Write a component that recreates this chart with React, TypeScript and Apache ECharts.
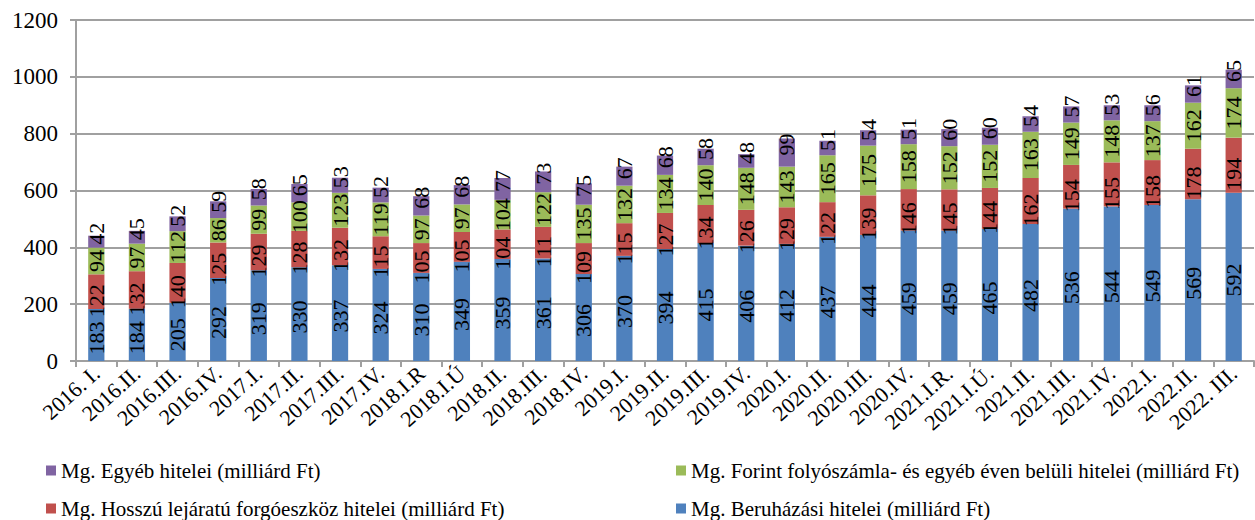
import React, { useEffect, useRef } from "react";
import * as echarts from "echarts";

const categories = [
  "2016. I.", "2016.II.", "2016.III.", "2016.IV.", "2017.I.", "2017.II.", "2017.III.", "2017.IV.",
  "2018.I.R", "2018.I.Ú", "2018.II.", "2018.III.", "2018.IV.", "2019.I.", "2019.II.", "2019.III.",
  "2019.IV.", "2020.I.", "2020.II.", "2020.III.", "2020.IV.", "2021.I.R.", "2021.I.Ú.", "2021.II.",
  "2021.III.", "2021.IV.", "2022.I.", "2022.II.", "2022. III.",
];

const beruhazasi = [183, 184, 205, 292, 319, 330, 337, 324, 310, 349, 359, 361, 306, 370, 394, 415, 406, 412, 437, 444, 459, 459, 465, 482, 536, 544, 549, 569, 592];
const hosszu = [122, 132, 140, 125, 129, 128, 132, 115, 105, 105, 104, 111, 109, 115, 127, 134, 126, 129, 122, 139, 146, 145, 144, 162, 154, 155, 158, 178, 194];
const forint = [94, 97, 112, 86, 99, 100, 123, 119, 97, 97, 104, 122, 135, 132, 134, 140, 148, 143, 165, 175, 158, 152, 152, 163, 149, 148, 137, 162, 174];
const egyeb = [42, 45, 52, 59, 58, 65, 53, 52, 68, 68, 77, 73, 75, 67, 68, 58, 48, 99, 51, 54, 51, 60, 60, 54, 57, 53, 56, 61, 65];

const yTicks = [0, 200, 400, 600, 800, 1000, 1200];

const names = {
  beru: "Mg. Beruházási hitelei (milliárd Ft)",
  hossz: "Mg. Hosszú lejáratú forgóeszköz hitelei (milliárd Ft)",
  forint: "Mg. Forint folyószámla- és egyéb éven belüli hitelei (milliárd Ft)",
  egyeb: "Mg. Egyéb hitelei (milliárd Ft)",
};

const FONT = "'Liberation Serif', 'Times New Roman', serif";

export default function App() {
  const ref = useRef<HTMLDivElement>(null);
  useEffect(() => {
    if (!ref.current) return;
    const chart = echarts.init(ref.current, null, { renderer: "svg" });
    // label text is rotated 90deg, so offset[0] moves it along the bar (positive = up)
    const label = (shiftUp: number) => ({
      show: true,
      position: "inside" as const,
      rotate: 90,
      color: "#000",
      fontFamily: FONT,
      fontSize: 22,
      offset: [shiftUp, 0],
    });
    const mk = (name: string, data: number[], color: string, shiftUp: number) => ({
      name,
      type: "bar" as const,
      stack: "total",
      data,
      barWidth: "40%",
      itemStyle: { color },
      label: label(shiftUp),
    });
    const legendBase = {
      orient: "horizontal" as const,
      padding: 0,
      itemWidth: 10,
      itemHeight: 10,
      icon: "rect",
      textStyle: { fontFamily: FONT, fontSize: 21, color: "#000", lineHeight: 21 },
    };
    chart.setOption({
      animation: false,
      textStyle: { fontFamily: FONT },
      grid: { left: 76, right: 1, top: 20, bottom: 159, containLabel: false },
      legend: [
        { ...legendBase, left: 46, top: 460, data: [names.egyeb] },
        { ...legendBase, left: 676, top: 460, data: [names.forint] },
        { ...legendBase, left: 46, top: 498, data: [names.hossz] },
        { ...legendBase, left: 676, top: 498, data: [names.beru] },
      ],
      xAxis: {
        type: "category",
        data: categories,
        axisLine: { lineStyle: { color: "#a0a0a0", width: 2 } },
        axisTick: { show: true, length: 6, lineStyle: { color: "#a0a0a0", width: 2 } },
        axisLabel: { rotate: 42, fontFamily: FONT, fontSize: 22, color: "#000", margin: 9, interval: 0 },
      },
      yAxis: {
        type: "value",
        min: yTicks[0],
        max: yTicks[yTicks.length - 1],
        interval: 200,
        axisLine: { show: true, lineStyle: { color: "#a0a0a0", width: 2 } },
        axisTick: { show: true, length: 6, lineStyle: { color: "#a0a0a0", width: 2 } },
        axisLabel: {
          fontFamily: FONT,
          fontSize: 23,
          color: "#000",
          margin: 18,
          formatter: (v: number) => String(v),
        },
        splitLine: { lineStyle: { color: "#a0a0a0", width: 2 } },
      },
      series: [
        mk(names.beru, beruhazasi, "#4f81bd", -3),
        mk(names.hossz, hosszu, "#c0504d", -9),
        mk(names.forint, forint, "#9bbb59", 0),
        mk(names.egyeb, egyeb, "#8064a2", 8),
      ],
    });
    return () => chart.dispose();
  }, []);
  return (
    <div
      ref={ref}
      style={{ position: "fixed", left: 0, top: 0, width: 1255, height: 520, background: "#fff" }}
    />
  );
}
